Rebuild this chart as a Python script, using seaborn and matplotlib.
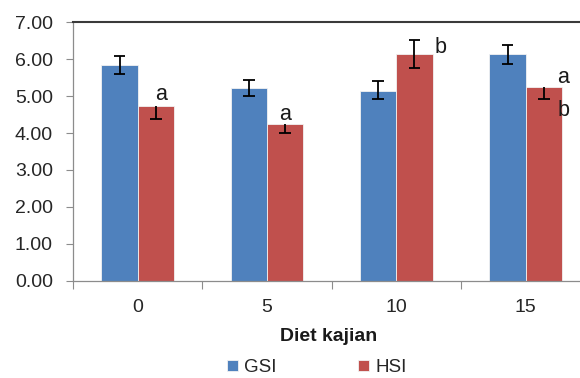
import matplotlib
matplotlib.use("Agg")
import matplotlib.pyplot as plt
import seaborn as sns
import pandas as pd
import numpy as np

# Diet levels and mean indices
diets = ["0", "5", "10", "15"]
gsi = [5.84, 5.22, 5.15, 6.13]
hsi = [4.74, 4.25, 6.15, 5.24]

# Error bar extents (below, above) for each series
gsi_err_lo = [0.25, 0.23, 0.24, 0.25]
gsi_err_hi = [0.25, 0.22, 0.25, 0.26]
hsi_err_lo = [0.37, 0.24, 0.38, 0.31]
hsi_err_hi = [0.00, 0.00, 0.38, 0.00]

# Significance letters on the HSI bars
hsi_letters_top = ["a", "a", "b", "a"]
hsi_letters_low = ["", "", "", "b"]

series_names = ["GSI", "HSI"]
colors = ["#4F81BD", "#C0504D"]

df = pd.DataFrame({
    "Diet": diets * 2,
    "Nilai": gsi + hsi,
    "Indeks": [series_names[0]] * 4 + [series_names[1]] * 4,
})

sns.set_style("white")
plt.rcParams["font.family"] = ["Liberation Sans", "DejaVu Sans"]

fig = plt.figure(figsize=(5.8, 3.78), dpi=100)
ax = fig.add_axes([0.1259, 0.2574, 0.892, 0.6836])

sns.barplot(data=df, x="Diet", y="Nilai", hue="Indeks", order=diets,
            hue_order=series_names, palette=colors, saturation=1,
            width=0.56, errorbar=None, edgecolor="#f2f2f2", linewidth=0.6,
            ax=ax, legend=True)

# Error bars drawn from the bar geometry
cap = 0.045
for cont, vals, lo, hi in zip(ax.containers, [gsi, hsi],
                              [gsi_err_lo, hsi_err_lo], [gsi_err_hi, hsi_err_hi]):
    for bar, v, l, h in zip(cont, vals, lo, hi):
        xc = bar.get_x() + bar.get_width() / 2
        ax.vlines(xc, v - l, v + h, color="black", lw=1.3, zorder=5)
        ax.hlines(v - l, xc - cap, xc + cap, color="black", lw=1.3, zorder=5)
        if h > 0:
            ax.hlines(v + h, xc - cap, xc + cap, color="black", lw=1.3, zorder=5)

# Letters next to the HSI bars (offsets in points)
offsets_top = [(4, 8), (0, 6.5), (19, -6), (14, 6.7)]
offsets_low = [None, None, None, (14.5, -17)]
for bar, v, hi, t, b, ot, ol in zip(ax.containers[1], hsi, hsi_err_hi,
                                    hsi_letters_top, hsi_letters_low,
                                    offsets_top, offsets_low):
    xc = bar.get_x() + bar.get_width() / 2
    ax.annotate(t, (xc, v + hi), xytext=ot, textcoords="offset points",
                ha="center", va="center", fontsize=15.5, color="#1a1a1a")
    if b:
        ax.annotate(b, (xc, v), xytext=ol, textcoords="offset points",
                    ha="center", va="center", fontsize=15.5, color="#1a1a1a")

ax.set_ylim(0, 7)
ax.set_xlim(-0.5, 3.5)
ax.set_yticks(np.arange(0, 7.01, 1.0))
ax.set_yticklabels([f"{t:.2f}" for t in np.arange(0, 7.01, 1.0)])
ax.tick_params(axis="y", which="major", left=True, length=5, width=0.8,
               color="#8c8c8c", pad=9.5, labelsize=14, labelcolor="#262626")
ax.tick_params(axis="x", which="major", bottom=False, length=0, pad=13,
               labelsize=14, labelcolor="#262626")
ax.set_xticks(np.arange(-0.5, 3.6, 1.0), minor=True)
ax.tick_params(axis="x", which="minor", bottom=True, length=6, width=0.8,
               color="#8c8c8c")

for side in ["left", "bottom"]:
    ax.spines[side].set_color("#8c8c8c")
    ax.spines[side].set_linewidth(0.9)
ax.spines["right"].set_visible(False)
ax.spines["top"].set_visible(True)
ax.spines["top"].set_color("#3a3a3a")
ax.spines["top"].set_linewidth(1.5)

ax.set_xlabel("Diet kajian", fontsize=14, fontweight="bold", color="#1a1a1a")
ax.xaxis.set_label_coords((329 - 73) / (0.892 * 580), -0.183)
ax.set_ylabel("")

leg = ax.legend(loc="center", bbox_to_anchor=(317 / 580, 0.027),
                bbox_transform=fig.transFigure, ncol=2, frameon=False,
                fontsize=13.5, handlelength=0.55, handleheight=0.55,
                handletextpad=0.35, columnspacing=4.35, borderpad=0.1)
for t in leg.get_texts():
    t.set_color("#262626")

fig.savefig("out.png", dpi=100)
